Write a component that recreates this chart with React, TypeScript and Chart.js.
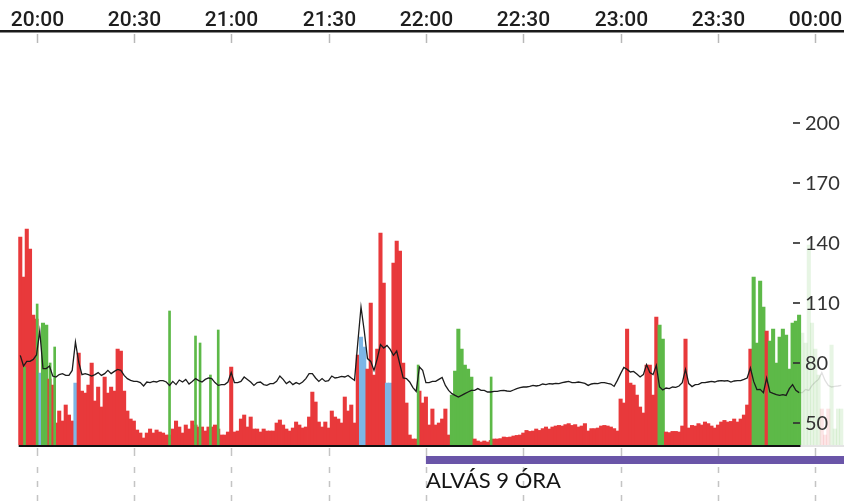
import React, { useEffect, useRef } from "react";
import { Chart, registerables } from "chart.js";
Chart.register(...registerables);

// minutes are counted from 20:00
const BAR_START_MIN = -5;
const barValues = [
  143, 123, 147, 137, 104,
  102, 75, 100, 99, 72, 69, 50, 56, 51, 59,
  54, 51, 70, 85, 66, 65, 69, 80, 61, 68,
  58, 73, 65, 68, 66, 87, 86, 66, 56, 52,
  51, 46.5, 45, 42.5, 45, 47, 45, 46.5, 45.5, 45,
  44, 44, 47, 51, 48, 45, 49, 47, 51, 49,
  48, 48, 46, 48, 48, 49, 47, 44, 44, 45.5,
  78, 45.5, 46, 52, 54, 48, 53, 47, 47, 45.5,
  47, 46, 46, 46, 50, 51.5, 49, 47, 46, 47.5,
  50.5, 49, 47.5, 48, 53, 65.5, 60.5, 50.5, 48, 50.5,
  47.5, 56, 53, 52, 50, 63, 56, 59, 50, 84,
  93, 88, 77, 110, 74, 87, 145, 120, 70, 70,
  130, 141, 136, 80, 60, 44, 42, 42, 66, 60,
  63, 49, 57, 49, 50, 52, 57, 44, 64, 76,
  97, 87, 79, 77, 73, 42, 41, 40.5, 41, 40.5,
  41.3, 42, 42, 42.2, 43, 42.8, 43, 43.5, 43.8, 44,
  45, 46.3, 45.8, 46, 47, 46.3, 47.2, 48, 47, 48,
  48.5, 48.8, 48.5, 49.2, 49.7, 48.8, 49.2, 48, 48.5, 49.7,
  46, 47.2, 47.2, 47.5, 48.5, 48.8, 48.5, 48, 47.2, 46,
  62, 60, 97, 70, 69, 64, 58, 55, 79, 79,
  64, 103, 99, 92, 45.5, 45.2, 45.8, 45.8, 45.5, 48.5,
  92, 47.5, 48.8, 48.5, 49.7, 49, 50.5, 49.7, 48.5, 47.5,
  49, 50.5, 51.3, 50.5, 50.8, 52, 50.5, 52, 54, 59,
  87, 123, 90, 121, 108, 96, 91, 97, 80, 93,
  97, 94, 77, 100, 101, 104, 95, 90, 139, 100,
  87, 74, 57, 44, 57, 89, 47, 57, 57,
];
// r = red, g = green, b = blue
const barKinds = (
  "rrrrr" +
  "rbggrrrrrr" + "rrbrrrrrrr" + "rrrrrrrrrr" + "rrrrrrrrrr" + "rrrrrrrrrr" +
  "rrrrrrrrrr" + "rrrrrrrrrr" + "rrrrrrrrrr" + "rrrrrrrrrr" + "rrrrrrrrrr" +
  "bbrrrrrrbb" + "rrrrrrrrrr" + "rrrrrrrrgg" + "gggggrrrrr" + "rrrrrrrrrr" +
  "rrrrrrrrrr" + "rrrrrrrrrr" + "rrrrrrrrrr" + "rrrrrrrrrr" + "rrggrrrrrr" +
  "rrrrrrrrrr" + "rrrrrrrrrr" + "rggggrgggg" + "gggggggggg" + "ggrrrgggg"
).split("");

const spikeMinutes = [-3.7, 0.2, 4.2, 5.6, 41, 49, 50.4, 53.6, 56, 117.6, 140.1];
const spikeValues = [78, 109.5, 80, 88, 106, 93.5, 90, 74, 96.5, 79, 73];

const LINE_START_MIN = -5;
const lineValues = [
  83.8, 78.5, 80.8, 80.8, 81.8,
  84, 96, 77.2, 77.2, 78.5, 73.5, 73, 74.2, 74.7, 73.8,
  73.8, 76.3, 90.5, 80.5, 74.2, 74.7, 74.2, 73.5, 74.2, 75.2,
  73.8, 74.7, 76.3, 74.7, 75.8, 76.8, 76.3, 73.8, 72.2, 71.3,
  70.8, 70.8, 70.2, 68.5, 70.5, 70.2, 70.8, 70.5, 71.2, 71.2,
  70.5, 68.8, 70.8, 69.2, 71.5, 70.5, 71.8, 69.5, 70.8, 72.2,
  71.2, 70.5, 71.8, 72.5, 72.2, 70.2, 68.8, 69.2, 69.2, 70.5,
  75.2, 70.2, 70.2, 70.8, 73, 71.8, 70.5, 68.8, 70.2, 70.5,
  69.2, 68.8, 69.7, 69.7, 70.8, 73.5, 71.8, 69.7, 70.8, 69.2,
  70.2, 69.5, 70.5, 72.2, 74.7, 74.7, 72.5, 70.8, 72.2, 70.8,
  71.2, 73.5, 72.5, 72.8, 73.3, 73, 73.8, 72.5, 71.3, 90,
  108, 96, 82.2, 80.8, 76.3, 82.2, 89.2, 87.5, 88.8, 86.8,
  83.8, 86, 79.2, 72.5, 72.2, 70.5, 67.7, 65.8, 78, 76.3,
  70.2, 70.2, 70.8, 70.8, 71.8, 72.8, 68.8, 66.3, 64.7, 63.8,
  63, 63.8, 64.7, 65.5, 66.3, 66.3, 67.2, 66.3, 66.3, 65.5,
  65.5, 65.8, 65.8, 66.2, 66.3, 66, 65.8, 66.5, 67.2, 67.7,
  68, 68, 68.3, 68.8, 68.5, 68.8, 69.5, 69.2, 69.7, 69.5,
  69.8, 69.7, 70.2, 70.5, 70.8, 70.2, 70.2, 70.5, 70.2, 69.8,
  68.8, 69.5, 69.8, 69.7, 70.2, 70.2, 69.8, 69.5, 68.3, 71.3,
  74.7, 77.8, 76.8, 75.5, 75.8, 74.5, 73, 74.2, 79.2, 75.2,
  74.2, 78.8, 68, 66.5, 67.5, 67.2, 68, 67.8, 68.5, 70.2,
  76.8, 69.7, 68.2, 69.2, 69.3, 70.2, 70.2, 70.5, 70.8, 70.5,
  71, 71.2, 71, 71.2, 70.5, 71, 71.2, 71.2, 71.8, 72.5,
  77.5, 70.8, 66.7, 66.8, 65.2, 72.5, 65.5, 64.8, 64.2, 63.8,
  64.2, 63.8, 67.2, 69.2, 66.3, 65.2, 65.2, 66.8, 66.3, 68.8,
  70.5, 71.8, 75.2, 71.3, 68.8, 68, 68.3, 68.5, 68.8,
];

const FADE_AFTER_MIN = 235.5;
const timeTickMinutes = [0, 30, 60, 90, 120, 150, 180, 210, 240];
const timeLabels = ["20:00", "20:30", "21:00", "21:30", "22:00", "22:30", "23:00", "23:30", "00:00"];
const yTicks = [50, 80, 110, 140, 170, 200];
const SLEEP_START_MIN = 120;
const sleepLabel = "ALVÁS 9 ÓRA";

const X_MIN = -11.25;
const X_MAX = 248.84;
const Y_MIN = 39;
const Y_MAX = 230;

const RED = "#E8393B";
const GREEN = "#5DB948";
const BLUE = "#7DB6E6";
const RED_FADE = "rgba(232,57,59,0.13)";
const GREEN_FADE = "rgba(93,185,72,0.15)";
const PURPLE = "#6A55A8";

function colorFor(kind: string, t: number) {
  const faded = t > FADE_AFTER_MIN;
  if (kind === "g") return faded ? GREEN_FADE : GREEN;
  if (kind === "b") return faded ? "rgba(125,182,230,0.15)" : BLUE;
  return faded ? RED_FADE : RED;
}

const decorPlugin = {
  id: "decor",
  afterDatasetsDraw(chart: any) {
    const { ctx, scales } = chart;
    const xs = scales.x;
    const ys = scales.y;
    const W = chart.width;
    const H = chart.height;
    ctx.save();
    const base = ys.getPixelForValue(Y_MIN);
    // baseline
    const bx0 = xs.getPixelForValue(BAR_START_MIN - 0.5);
    const bx1 = xs.getPixelForValue(FADE_AFTER_MIN);
    ctx.fillStyle = "#111";
    ctx.fillRect(bx0, base, bx1 - bx0, 2);
    ctx.fillStyle = "#e4e4e4";
    ctx.fillRect(bx1, base, W - bx1, 2);

    // top axis
    ctx.fillStyle = "#1a1a1a";
    ctx.fillRect(0, 30, W, 2.5);
    ctx.font = '500 21px Roboto, "Noto Sans", sans-serif';
    ctx.textAlign = "center";
    ctx.textBaseline = "alphabetic";
    timeTickMinutes.forEach((m, i) => {
      const px = Math.round(xs.getPixelForValue(m)) + 0.5;
      ctx.fillStyle = "#1e1e1e";
      ctx.fillText(timeLabels[i], px, 26);
      ctx.strokeStyle = "#b8b8b8";
      ctx.lineWidth = 1.5;
      ctx.setLineDash([]);
      ctx.beginPath();
      ctx.moveTo(px, 34);
      ctx.lineTo(px, 43);
      ctx.stroke();
      // lower guides
      ctx.strokeStyle = "#c4c4c4";
      ctx.beginPath();
      ctx.moveTo(px, base + 3);
      ctx.lineTo(px, 456);
      ctx.stroke();
      ctx.setLineDash([6, 8]);
      ctx.beginPath();
      ctx.moveTo(px, 467);
      ctx.lineTo(px, H);
      ctx.stroke();
      ctx.setLineDash([]);
    });

    // sleep band
    const sx = xs.getPixelForValue(SLEEP_START_MIN);
    ctx.fillStyle = PURPLE;
    ctx.fillRect(sx, 456, W - sx, 8);
    ctx.fillStyle = "#141414";
    ctx.font = '22px Lato, "Noto Sans", sans-serif';
    ctx.textAlign = "left";
    ctx.fillText(sleepLabel, sx, 488);

    // right value labels
    ctx.font = '20px Lato, "Noto Sans", sans-serif';
    ctx.textBaseline = "middle";
    yTicks.forEach((v) => {
      const py = ys.getPixelForValue(v);
      ctx.strokeStyle = "#333";
      ctx.lineWidth = 1.7;
      ctx.beginPath();
      ctx.moveTo(793, py);
      ctx.lineTo(800, py);
      ctx.stroke();
      ctx.fillStyle = "#333";
      ctx.fillText(String(v), 805, py + 1);
    });
    ctx.restore();
  },
};

export default function App() {
  const ref = useRef<HTMLCanvasElement | null>(null);
  useEffect(() => {
    if (!ref.current) return;
    const barData = barValues.map((v, i) => ({ x: BAR_START_MIN + i, y: v }));
    const barColors = barValues.map((_, i) => colorFor(barKinds[i], BAR_START_MIN + i));
    const spikeData = spikeValues.map((v, i) => ({ x: spikeMinutes[i], y: v }));
    const lineData = lineValues.map((v, i) => ({ x: LINE_START_MIN + i, y: v }));
    const chart = new Chart(ref.current, {
      type: "bar",
      data: {
        datasets: [
          {
            type: "line",
            data: lineData,
            borderColor: "#1c1c1c",
            borderWidth: 1.3,
            pointRadius: 0,
            tension: 0,
            order: 1,
            segment: {
              borderColor: (c: any) => (c.p1.parsed.x > FADE_AFTER_MIN ? "rgba(0,0,0,0.12)" : "#1c1c1c"),
            },
          } as any,
          {
            type: "bar",
            data: spikeData,
            backgroundColor: GREEN,
            barThickness: 2,
            grouped: false,
            order: 2,
          } as any,
          {
            type: "bar",
            data: barData,
            backgroundColor: barColors,
            barThickness: 3.4,
            grouped: false,
            order: 3,
          } as any,
        ],
      },
      options: {
        animation: false,
        responsive: true,
        maintainAspectRatio: false,
        layout: { padding: { top: 63, bottom: 56, left: 0, right: 0 } },
        plugins: { legend: { display: false }, tooltip: { enabled: false } },
        scales: {
          x: { type: "linear", min: X_MIN, max: X_MAX, display: false, offset: false },
          y: { min: Y_MIN, max: Y_MAX, display: false },
        },
      } as any,
      plugins: [decorPlugin],
    });
    return () => chart.destroy();
  }, []);
  return (
    <div style={{ position: "absolute", left: 0, top: 0, width: 844, height: 501, background: "#fff" }}>
      <canvas ref={ref} />
    </div>
  );
}
